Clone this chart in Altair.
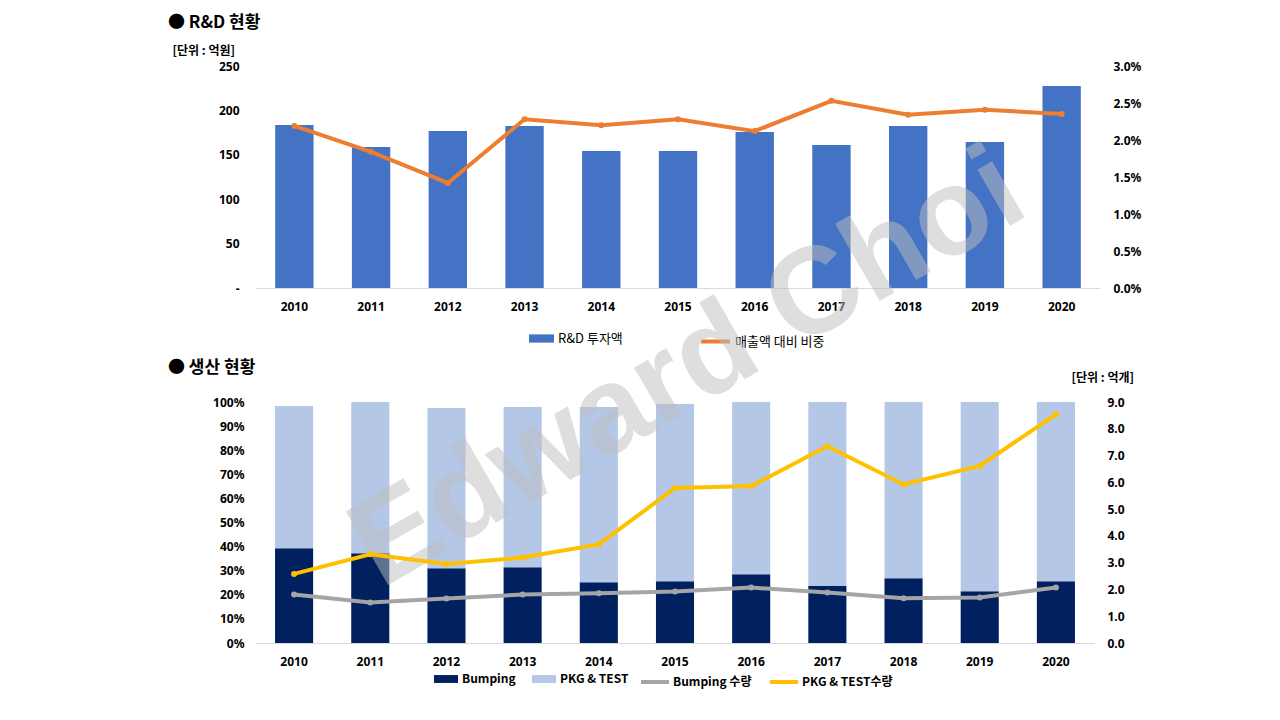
import altair as alt
import pandas as pd

# ---------------- data ----------------
years = [str(y) for y in range(2010, 2021)]
rd_invest = [183.6, 158.8, 176.8, 182.4, 154.3, 154.3, 175.7, 161.0, 182.4, 164.4, 227.5]
rd_ratio_pct = [2.19, 1.84, 1.42, 2.28, 2.20, 2.28, 2.12, 2.53, 2.34, 2.41, 2.35]

bump_share_pct = [39.3, 37.2, 31.0, 31.4, 25.2, 25.6, 28.5, 23.6, 26.9, 21.5, 25.6]
pkg_share_pct = [59.0, 62.8, 66.5, 66.5, 72.7, 73.6, 71.5, 76.4, 73.1, 78.5, 74.4]
bump_qty = [1.81, 1.51, 1.66, 1.81, 1.86, 1.92, 2.07, 1.89, 1.67, 1.70, 2.07]
pkg_qty = [2.58, 3.31, 2.95, 3.19, 3.68, 5.79, 5.86, 7.35, 5.92, 6.61, 8.54]

bar_parts = ["Bumping", "PKG & TEST"]
qty_series = ["Bumping 수량", "PKG & TEST수량"]

# ---------------- tables ----------------
top_df = pd.DataFrame({
    "year": years,
    "invest": rd_invest,
    "ratio": [v / 100 for v in rd_ratio_pct],
    "s_bar": "R&D 투자액",
    "s_line": "매출액 대비 비중",
})

share_rows = []
for i, y in enumerate(years):
    share_rows.append({"year": y, "part": bar_parts[0], "share": bump_share_pct[i] / 100, "ord": 0})
    share_rows.append({"year": y, "part": bar_parts[1], "share": pkg_share_pct[i] / 100, "ord": 1})
share_df = pd.DataFrame(share_rows)

qty_rows = []
for i, y in enumerate(years):
    qty_rows.append({"year": y, "series": qty_series[0], "qty": bump_qty[i]})
    qty_rows.append({"year": y, "series": qty_series[1], "qty": pkg_qty[i]})
qty_df = pd.DataFrame(qty_rows)

FONT_K = "Noto Sans CJK KR"
FONT_N = "Noto Sans"

W1, H1 = 844, 222
W2, H2 = 838, 241

def x_enc():
    return alt.X(
        "year:O",
        scale=alt.Scale(paddingInner=0.5, paddingOuter=0.25),
        axis=alt.Axis(title=None, labelAngle=0, ticks=False, domainColor="#D9D9D9",
                      domainWidth=1, labelPadding=13),
    )

# ---------------- top panel ----------------
bars_top = alt.Chart(top_df).mark_bar(color="#4472C4").encode(
    x=x_enc(),
    y=alt.Y("invest:Q", scale=alt.Scale(domain=[0, 250]),
            axis=alt.Axis(values=[0, 50, 100, 150, 200, 250],
                          labelExpr="datum.value == 0 ? '-' : datum.label",
                          title="[단위 : 억원]", titleAngle=0, titleAlign="left",
                          titleBaseline="middle", titleX=-84, titleY=-16,
                          grid=False, domain=False, ticks=False, labelPadding=17)),
    color=alt.Color("s_bar:N", scale=alt.Scale(domain=["R&D 투자액"], range=["#4472C4"]),
                    legend=alt.Legend(title=None, orient="none", legendX=272, legendY=259,
                                      symbolType="M-1,-0.33H1V0.33H-1Z", symbolSize=625,
                                      labelOffset=3, padding=0, labelFontWeight="normal",
                                      labelFontSize=13)),
)

line_top = alt.Chart(top_df).mark_line(
    strokeWidth=4, point=alt.OverlayMarkDef(filled=True, size=36)
).encode(
    x=x_enc(),
    y=alt.Y("ratio:Q", scale=alt.Scale(domain=[0, 0.03]),
            axis=alt.Axis(orient="right", format=".1%",
                          values=[0, 0.005, 0.01, 0.015, 0.02, 0.025, 0.03],
                          title=None, grid=False, domain=False, ticks=False, labelPadding=13)),
    color=alt.Color("s_line:N", scale=alt.Scale(domain=["매출액 대비 비중"], range=["#ED7D31"]),
                    legend=alt.Legend(title=None, orient="none", legendX=443, legendY=259,
                                      symbolType="stroke", symbolSize=841, symbolStrokeWidth=4,
                                      labelOffset=3, padding=0, labelFontWeight="normal",
                                      labelFontSize=13)),
)

title_top = alt.Chart(pd.DataFrame({"t": ["●  R&D 현황"]})).mark_text(
    align="left", baseline="middle", fontSize=17, fontWeight="bold", font=FONT_K, color="#000000"
).encode(x=alt.value(-88), y=alt.value(24 - 67), text="t:N")

top = alt.layer(bars_top, line_top, title_top).resolve_scale(
    y="independent", color="independent"
).resolve_legend(color="independent").properties(width=W1, height=H1)

# ---------------- bottom panel ----------------
bars_bot = alt.Chart(share_df).mark_bar().encode(
    x=x_enc(),
    y=alt.Y("share:Q", stack="zero", scale=alt.Scale(domain=[0, 1]),
            axis=alt.Axis(values=[i / 10 for i in range(11)], format=".0%",
                          title=None, grid=False, domain=False, ticks=False, labelPadding=12)),
    color=alt.Color("part:N", scale=alt.Scale(domain=bar_parts, range=["#002060", "#B4C7E7"]),
                    legend=alt.Legend(title=None, orient="none", legendX=177, legendY=264,
                                      direction="horizontal", columnPadding=15,
                                      symbolType="M-1,-0.33H1V0.33H-1Z", symbolSize=576,
                                      labelOffset=3, padding=0, labelFontWeight="bold",
                                      labelFontSize=12)),
    order=alt.Order("ord:Q"),
)

watermark = alt.Chart(pd.DataFrame({"t": ["Edward Choi"]})).mark_text(
    align="center", baseline="middle", angle=330, fontSize=123, fontWeight="bold",
    font="Liberation Sans", color="#BFBFBF", opacity=0.5
).encode(x=alt.value(432), y=alt.value(-33), text="t:N")

lines_bot = alt.Chart(qty_df).mark_line(
    strokeWidth=4, point=alt.OverlayMarkDef(filled=True, size=36)
).encode(
    x=x_enc(),
    y=alt.Y("qty:Q", scale=alt.Scale(domain=[0, 9]),
            axis=alt.Axis(orient="right", format=".1f", values=list(range(10)),
                          title="[단위 : 억개]", titleAngle=0, titleAlign="left",
                          titleBaseline="middle", titleX=-23, titleY=-25,
                          grid=False, domain=False, ticks=False, labelPadding=13)),
    color=alt.Color("series:N", scale=alt.Scale(domain=qty_series, range=["#A5A5A5", "#FFC000"]),
                    legend=alt.Legend(title=None, orient="none", legendX=383, legendY=264,
                                      direction="horizontal", columnPadding=10,
                                      symbolType="stroke", symbolSize=784, symbolStrokeWidth=4,
                                      labelOffset=2, padding=0, labelFontWeight="bold",
                                      labelFontSize=12)),
)

title_bot = alt.Chart(pd.DataFrame({"t": ["●  생산 현황"]})).mark_text(
    align="left", baseline="middle", fontSize=17, fontWeight="bold", font=FONT_K, color="#000000"
).encode(x=alt.value(-88), y=alt.value(369 - 403), text="t:N")

bottom = alt.layer(bars_bot, watermark, lines_bot, title_bot).resolve_scale(
    y="independent", color="independent"
).resolve_legend(color="independent").properties(width=W2, height=H2)

chart = alt.vconcat(top, bottom, spacing=114, bounds="flush").properties(
    padding={"left": 160, "top": 6, "right": 5, "bottom": 5}
).configure_view(stroke=None).configure_axis(
    labelFont=FONT_N, labelFontSize=12, labelFontWeight="bold", labelColor="#000000",
    titleFont=FONT_K, titleFontSize=12, titleFontWeight="bold", titleColor="#000000",
).configure_legend(
    labelFont=FONT_K, labelColor="#000000"
)

chart.save("out.html", embed_options={"renderer": "svg", "actions": False})
